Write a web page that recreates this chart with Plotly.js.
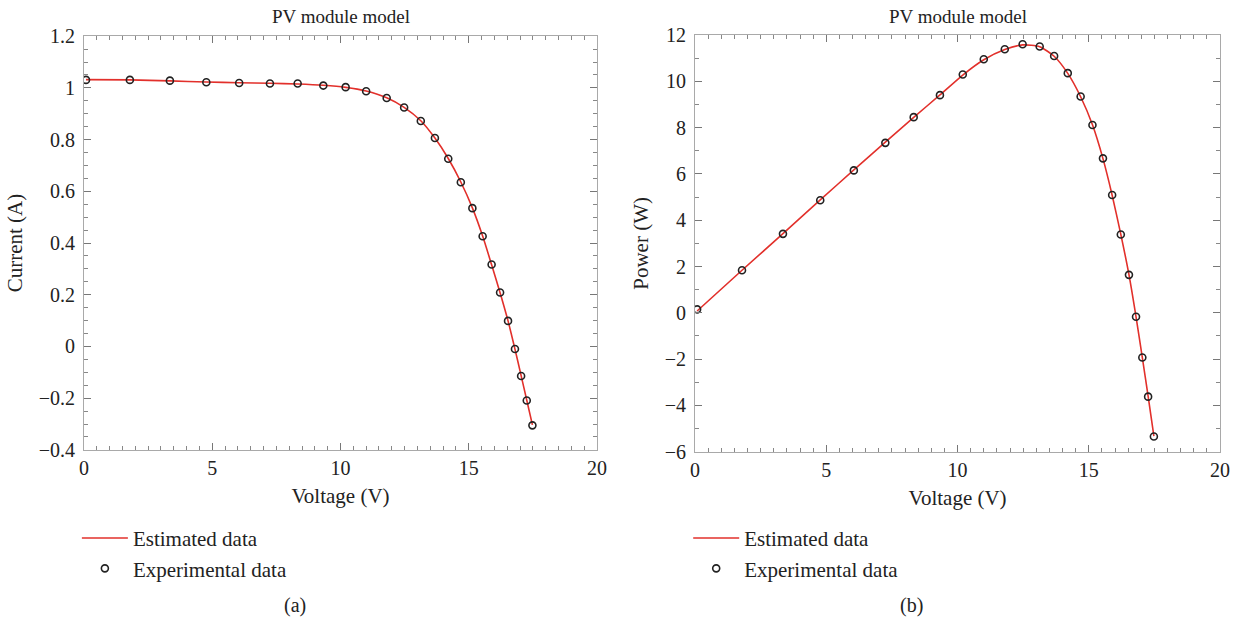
<!DOCTYPE html>
<html>
<head>
<meta charset="utf-8">
<script src="https://cdn.plot.ly/plotly-3.0.1.min.js"></script>
<style>html,body{margin:0;padding:0;background:#fff;}#chart{width:1240px;height:624px;}</style>
</head>
<body>
<div id="chart"></div>
<script>
// Voltage (V) of each measured point
const voltage = [0.08, 1.79, 3.35, 4.77, 6.05, 7.25, 8.33, 9.33, 10.2, 11.0, 11.8, 12.48, 13.13, 13.68, 14.2, 14.69, 15.14, 15.54, 15.89, 16.22, 16.53, 16.8, 17.04, 17.26, 17.48];
// Panel (a): current (A)
const currentExp = [1.031, 1.031, 1.028, 1.022, 1.019, 1.017, 1.017, 1.009, 1.003, 0.987, 0.961, 0.924, 0.872, 0.806, 0.726, 0.635, 0.535, 0.426, 0.317, 0.209, 0.099, -0.010, -0.114, -0.209, -0.305];
const currentEst = [1.032, 1.031, 1.027, 1.023, 1.020, 1.018, 1.015, 1.010, 1.002, 0.988, 0.962, 0.925, 0.873, 0.806, 0.727, 0.636, 0.536, 0.427, 0.316, 0.208, 0.099, -0.010, -0.113, -0.208, -0.303];
// Panel (b): power (W)
const powerExp = [0.15, 1.84, 3.41, 4.86, 6.15, 7.34, 8.45, 9.40, 10.29, 10.95, 11.38, 11.60, 11.50, 11.09, 10.35, 9.34, 8.11, 6.67, 5.09, 3.38, 1.64, -0.17, -1.93, -3.62, -5.34];
const powerEst = [0.08, 1.84, 3.42, 4.88, 6.17, 7.37, 8.44, 9.41, 10.27, 10.93, 11.37, 11.57, 11.49, 11.08, 10.34, 9.33, 8.12, 6.66, 5.08, 3.39, 1.65, -0.17, -1.93, -3.60, -5.32];

const titleText = "PV module model";
const xTitle = "Voltage (V)";
const yTitleA = "Current (A)";
const yTitleB = "Power (W)";
const estName = "Estimated data";
const expName = "Experimental data";

const FONT = "Liberation Serif, Times New Roman, serif";
const red = "#e2302b";
const frame = "#a9a9a9";
const ink = "#222";

function lineTrace(x, y, xa, ya, lg) {
  return {x: x, y: y, xaxis: xa, yaxis: ya, mode: "lines", type: "scatter", name: estName,
    line: {color: red, width: 1.6, shape: "spline", smoothing: 0.6}, legend: lg, hoverinfo: "skip"};
}
function markTrace(x, y, xa, ya, lg) {
  return {x: x, y: y, xaxis: xa, yaxis: ya, mode: "markers", type: "scatter", name: expName,
    marker: {symbol: "circle-open", size: 7, color: ink, line: {width: 1.6, color: ink}}, legend: lg, hoverinfo: "skip"};
}

const data = [
  lineTrace(voltage, currentEst, "x", "y", "legend"),
  markTrace(voltage, currentExp, "x", "y", "legend"),
  lineTrace(voltage, powerEst, "x2", "y2", "legend2"),
  markTrace(voltage, powerExp, "x2", "y2", "legend2")
];

function xax(domain, anchor) {
  return {domain: domain, anchor: anchor, range: [0, 20], dtick: 5, tick0: 0,
    showline: true, linecolor: frame, linewidth: 1, mirror: "ticks", ticks: "inside", ticklen: 7, tickcolor: "#777", tickwidth: 1,
    minor: {dtick: 0.5, ticks: "inside", ticklen: 4, tickcolor: "#888"},
    showgrid: false, zeroline: false, tickfont: {family: FONT, size: 20, color: ink},
    title: {text: xTitle, font: {family: FONT, size: 21, color: ink}, standoff: 10}};
}
function yax(domain, anchor, range, dtick, minorD, title) {
  return {domain: domain, anchor: anchor, range: range, dtick: dtick,
    showline: true, linecolor: frame, linewidth: 1, mirror: "ticks", ticks: "inside", ticklen: 7, tickcolor: "#777", tickwidth: 1,
    minor: {dtick: minorD, ticks: "inside", ticklen: 4, tickcolor: "#888"},
    showgrid: false, zeroline: false, tickfont: {family: FONT, size: 20, color: ink}, ticklabelstandoff: 4,
    title: {text: title, font: {family: FONT, size: 21, color: ink}, standoff: 10}};
}

const legendBase = {font: {family: FONT, size: 21, color: ink}, bgcolor: "rgba(0,0,0,0)", orientation: "v",
  xanchor: "left", yanchor: "top", itemwidth: 46, tracegroupgap: 0};

const layout = {
  width: 1240, height: 624,
  margin: {l: 0, r: 0, t: 0, b: 0},
  paper_bgcolor: "#fff", plot_bgcolor: "#fff",
  font: {family: FONT, color: ink},
  xaxis: xax([0.0677, 0.4815], "y"),
  yaxis: yax([0.279, 0.942], "x", [-0.4, 1.2], 0.2, 0.05, yTitleA),
  xaxis2: xax([0.5605, 0.9839], "y2"),
  yaxis2: yax([0.276, 0.944], "x2", [-6, 12], 2, 1, yTitleB),
  showlegend: true,
  legend: Object.assign({}, legendBase, {x: 0.062, y: 0.17}),
  legend2: Object.assign({}, legendBase, {x: 0.555, y: 0.17}),
  annotations: [
    {text: titleText, xref: "paper", yref: "paper", x: 0.2746, y: 0.974, xanchor: "center", yanchor: "middle", showarrow: false, font: {family: FONT, size: 19, color: ink}},
    {text: titleText, xref: "paper", yref: "paper", x: 0.7722, y: 0.974, xanchor: "center", yanchor: "middle", showarrow: false, font: {family: FONT, size: 19, color: ink}},
    {text: "(a)", xref: "paper", yref: "paper", x: 0.238, y: 0.03, xanchor: "center", yanchor: "middle", showarrow: false, font: {family: FONT, size: 20, color: ink}},
    {text: "(b)", xref: "paper", yref: "paper", x: 0.735, y: 0.03, xanchor: "center", yanchor: "middle", showarrow: false, font: {family: FONT, size: 20, color: ink}}
  ]
};

Plotly.newPlot("chart", data, layout, {displayModeBar: false, staticPlot: true});
</script>
</body>
</html>
